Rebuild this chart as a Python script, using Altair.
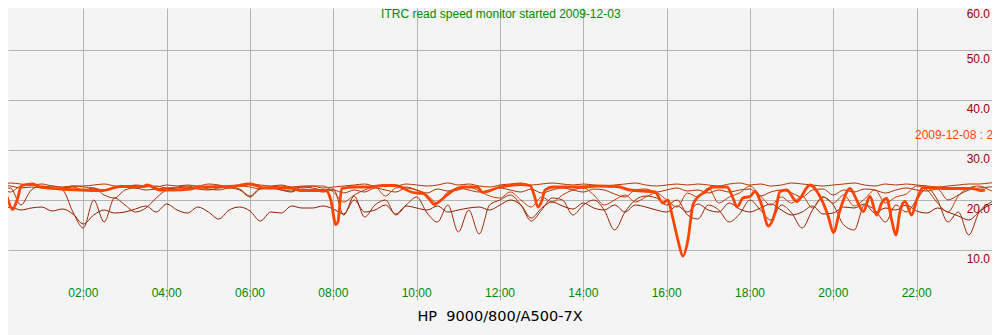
import altair as alt
import pandas as pd

# ---------------- data ----------------
TITLE = "ITRC read speed monitor started 2009-12-03"
FOOTER = "HP\u00a0 9000/800/A500-7X"
STAMP = "2009-12-08 : 21:35"

# earlier days, sampled every 15 minutes (0:00 .. 24:00)
HOURS_15 = [i * 0.25 for i in range(97)]

DAY_03 = [17.4, 18.6, 18.0, 18.4, 18.6, 17.8, 18.2, 17.2, 15.2, 17.0, 18.0, 17.4, 17.6, 18.2, 18.8, 17.6,
          19.2, 18.0, 17.4, 18.6, 17.6, 16.2, 18.0, 18.6, 17.8, 15.8, 17.6, 17.4, 18.8, 18.4, 18.4, 18.8,
          18.2, 17.2, 20.0, 17.6, 18.0, 19.0, 17.2, 18.8, 18.4, 18.0, 18.8, 17.6, 18.0, 18.4, 18.6, 18.0,
          19.0, 20.0, 19.0, 16.4, 18.4, 19.6, 18.8, 18.2, 19.4, 18.4, 18.0, 19.0, 17.6, 19.0, 18.6, 18.0,
          17.6, 18.8, 17.6, 19.2, 18.0, 17.6, 19.4, 18.2, 17.6, 18.4, 19.2, 18.0, 17.0, 17.6, 18.8, 17.2,
          17.4, 18.6, 18.4, 19.2, 17.4, 18.4, 18.0, 19.0, 17.8, 17.4, 18.4, 17.6, 16.8, 16.0, 17.6, 19.0,
          19.4]
DAY_04 = [22.0, 22.4, 19.0, 22.0, 22.8, 22.4, 22.0, 17.6, 14.4, 20.0, 15.6, 20.4, 19.0, 17.6, 18.4, 20.4,
          22.0, 22.4, 22.6, 22.2, 22.0, 22.4, 22.6, 22.2, 20.8, 22.4, 22.6, 22.0, 21.6, 22.6, 22.4, 22.0,
          22.2, 17.0, 20.8, 16.6, 19.0, 20.0, 17.0, 19.0, 20.6, 17.4, 15.6, 19.0, 13.6, 18.0, 13.2, 19.0,
          20.0, 21.0, 19.0, 15.8, 18.0, 20.4, 20.0, 17.0, 19.0, 20.0, 18.0, 14.0, 17.6, 20.0, 20.8, 20.4,
          19.0, 20.0, 17.0, 16.2, 19.0, 18.0, 15.6, 17.2, 20.0, 18.0, 16.0, 19.0, 17.4, 14.4, 18.0, 20.6,
          19.0, 15.0, 14.0, 19.0, 18.0, 15.6, 19.0, 17.6, 20.0, 22.4, 20.0, 15.6, 17.6, 13.0, 17.6, 19.4,
          20.4]
DAY_05 = [22.8, 23.4, 23.2, 23.0, 23.2, 22.8, 22.6, 22.8, 22.8, 23.0, 23.2, 22.8, 22.6, 23.0, 22.8, 22.6,
          23.0, 22.8, 23.0, 22.8, 23.2, 23.0, 22.6, 22.8, 23.2, 23.0, 22.8, 23.0, 22.6, 22.8, 22.8, 22.4,
          22.6, 22.8, 23.0, 23.2, 22.8, 23.0, 22.8, 23.2, 23.0, 22.8, 23.0, 23.4, 23.0, 23.2, 22.8, 22.6,
          23.0, 23.2, 23.4, 23.0, 23.2, 23.4, 23.2, 23.0, 23.2, 23.0, 22.8, 23.0, 23.2, 23.4, 23.0, 22.8,
          23.0, 23.2, 23.0, 23.2, 23.0, 22.8, 23.2, 23.4, 23.0, 23.2, 22.8, 23.0, 23.4, 23.2, 23.0, 22.8,
          23.0, 23.2, 23.4, 23.0, 22.8, 23.2, 23.0, 23.2, 23.0, 22.8, 22.6, 22.8, 23.0, 23.2, 23.2, 23.4,
          23.6]
DAY_06 = [23.0, 22.8, 22.4, 22.6, 22.4, 22.2, 22.4, 22.6, 22.0, 22.4, 21.0, 20.4, 22.0, 22.4, 22.0, 22.2,
          22.4, 22.0, 22.4, 22.6, 22.2, 22.0, 22.4, 22.0, 20.6, 22.2, 22.4, 22.0, 21.8, 22.2, 22.0, 21.6,
          22.0, 21.4, 22.0, 21.6, 22.4, 22.0, 21.6, 22.4, 22.0, 21.4, 22.2, 21.8, 22.4, 22.0, 21.6, 22.0,
          22.4, 22.0, 21.6, 22.2, 21.4, 22.0, 22.4, 22.0, 21.6, 22.2, 22.0, 21.2, 20.6, 22.0, 22.2, 21.6,
          22.0, 22.4, 21.8, 22.0, 21.4, 22.0, 21.6, 22.0, 22.2, 20.8, 21.6, 22.0, 21.4, 20.6, 22.0, 22.2,
          21.0, 22.0, 21.6, 22.2, 22.0, 21.4, 22.0, 22.4, 22.0, 21.8, 22.2, 20.0, 21.0, 22.0, 22.4, 22.6,
          22.8]
DAY_07 = [22.4, 21.6, 22.8, 23.0, 22.6, 22.8, 22.4, 22.8, 22.6, 22.4, 22.0, 22.6, 22.8, 22.4, 22.6, 22.8,
          22.4, 22.6, 22.8, 22.4, 22.6, 22.8, 22.4, 22.8, 22.6, 22.2, 22.6, 22.8, 22.4, 22.6, 22.8, 22.8,
          21.6, 19.6, 21.0, 22.0, 22.6, 20.8, 22.4, 22.6, 22.0, 21.0, 19.4, 21.6, 22.0, 22.6, 21.8, 20.8,
          20.4, 21.6, 20.0, 18.6, 20.6, 19.6, 21.0, 22.0, 22.4, 21.0, 19.0, 20.0, 21.0, 19.6, 20.6, 21.4,
          20.0, 18.6, 21.4, 20.6, 22.4, 19.4, 20.6, 21.4, 22.8, 20.8, 19.0, 20.6, 19.4, 20.8, 18.4, 20.6,
          19.4, 21.0, 18.8, 20.2, 22.0, 19.4, 20.6, 21.2, 22.8, 22.0, 19.4, 17.6, 20.8, 22.4, 22.8, 22.0,
          21.0]

# current day (2009-12-08), irregular samples
TODAY_HOURS = [0.00, 0.12, 0.30, 0.41, 0.52, 0.79, 0.96, 1.44, 1.92, 2.47, 2.88, 3.43, 3.53, 3.84, 4.15,
               4.56, 4.80, 5.52, 6.00, 6.36, 6.96, 7.20, 7.82, 7.94, 8.06, 8.11, 8.20, 8.52, 8.88, 9.19,
               9.48, 9.91, 10.15, 10.32, 10.42, 10.56, 10.73, 10.97, 11.11, 11.45, 11.59, 12.00, 12.24,
               12.48, 12.72, 12.82, 12.91, 13.01, 13.08, 13.27, 13.99, 14.33, 14.81, 15.12, 15.72, 15.91,
               16.03, 16.13, 16.27, 16.39, 16.51, 16.63, 16.73, 16.92, 17.11, 17.45, 17.59, 17.69, 17.83,
               18.00, 18.12, 18.28, 18.44, 18.60, 18.72, 18.88, 19.12, 19.44, 19.68, 19.88, 20.00, 20.16,
               20.40, 20.56, 20.72, 20.88, 21.04, 21.16, 21.28, 21.40, 21.50, 21.60, 21.72, 21.88, 22.00,
               22.16, 22.80, 23.35, 23.52, 23.64]
TODAY_VALUES = [22.3, 21.6, 18.1, 20.0, 22.9, 23.2, 22.6, 22.2, 22.0, 21.9, 22.7, 22.7, 23.0, 22.0, 22.0,
                22.2, 22.6, 22.7, 23.2, 22.4, 22.4, 21.9, 21.9, 20.0, 15.1, 15.6, 22.3, 22.6, 22.6, 22.9,
                22.9, 21.5, 21.3, 20.0, 19.1, 19.8, 21.0, 22.3, 22.6, 22.6, 21.5, 22.6, 22.9,
                23.1, 22.9, 21.0, 18.6, 20.0, 22.0, 22.6, 22.6, 22.8, 22.7, 22.0, 21.6, 19.4,
                20.0, 17.0, 12.0, 8.8, 12.0, 19.0, 20.4, 21.6, 22.6, 22.6, 20.4, 18.6, 20.4,
                20.7, 21.7, 19.0, 14.8, 17.4, 21.7, 22.0, 19.7, 23.0, 20.7, 16.7, 13.5, 18.0,
                22.3, 20.0, 17.7, 20.7, 17.0, 19.4, 20.3, 16.0, 13.0, 17.7, 19.7, 17.0, 20.0,
                22.5, 22.3, 22.3, 21.9, 22.0]

DAY_NAMES = ["2009-12-03", "2009-12-04", "2009-12-05", "2009-12-06", "2009-12-07"]
DAY_COLORS = ["#8c1e00", "#a02a00", "#b53400", "#a83000", "#c23b00"]
TODAY_COLOR = "#ff4400"

X_GRID = [2, 4, 6, 8, 10, 12, 14, 16, 18, 20, 22]
X_TICKS = [2, 4, 6, 8, 10, 12, 14, 16, 18, 20, 22]
X_TICK_LABELS = ["02:00", "04:00", "06:00", "08:00", "10:00", "12:00", "14:00", "16:00",
                 "18:00", "20:00", "22:00"]
Y_TICKS = [10, 20, 30, 40, 50]
Y_TICK_LABELS = ["10.0", "20.0", "30.0", "40.0", "50.0"]

# ---------------- tables ----------------
rows = []
for name, vals in zip(DAY_NAMES, [DAY_03, DAY_04, DAY_05, DAY_06, DAY_07]):
    for h, v in zip(HOURS_15, vals):
        rows.append({"day": name, "hour": h, "speed": v})
past = pd.DataFrame(rows)
today = pd.DataFrame({"hour": TODAY_HOURS, "speed": TODAY_VALUES})
xlab = pd.DataFrame({"hour": X_TICKS, "t": X_TICK_LABELS})
ylab = pd.DataFrame({"speed": Y_TICKS, "t": Y_TICK_LABELS})

FONT = "Liberation Sans"
GREEN = "#008a00"
RED = "#990000"
GRID = "#b4b4b4"

xs = alt.Scale(domain=[0.192, 23.808], nice=False, zero=False)
ys = alt.Scale(domain=[0, 58.4], nice=False, zero=False)

past_lines = alt.Chart(past).mark_line(strokeWidth=1, interpolate="monotone").encode(
    x=alt.X("hour:Q", scale=xs, title=None, axis=alt.Axis(values=X_GRID)),
    y=alt.Y("speed:Q", scale=ys, title=None, axis=alt.Axis(values=Y_TICKS)),
    color=alt.Color("day:N", scale=alt.Scale(domain=DAY_NAMES, range=DAY_COLORS), legend=None),
    detail="day:N",
)

today_line = alt.Chart(today).mark_line(strokeWidth=2.8, interpolate="monotone",
                                        color=TODAY_COLOR, strokeJoin="round").encode(
    x=alt.X("hour:Q", scale=xs, title=None),
    y=alt.Y("speed:Q", scale=ys, title=None),
)

x_labels = alt.Chart(xlab).mark_text(font=FONT, fontSize=12, color=GREEN, align="center",
                                     baseline="middle").encode(
    x=alt.X("hour:Q", scale=xs, title=None),
    y=alt.datum(1.45),
    text="t:N",
)

y_labels = alt.Chart(ylab).mark_text(font=FONT, fontSize=12, color=RED, align="right",
                                     baseline="middle", dy=9).encode(
    x=alt.datum(23.76),
    y=alt.Y("speed:Q", scale=ys, title=None),
    text="t:N",
)

top_label = alt.Chart(pd.DataFrame({"t": ["60.0"]})).mark_text(
    font=FONT, fontSize=12, color=RED, align="right", baseline="middle", dy=14).encode(
    x=alt.datum(23.76), y=alt.datum(60), text="t:N")

title = alt.Chart(pd.DataFrame({"t": [TITLE]})).mark_text(
    font=FONT, fontSize=12, color=GREEN, align="center", baseline="middle", dy=14).encode(
    x=alt.datum(12.02), y=alt.datum(60), text="t:N")

footer = alt.Chart(pd.DataFrame({"t": [FOOTER]})).mark_text(
    font="DejaVu Sans", fontSize=14.5, color="#000000", align="center", baseline="middle").encode(
    x=alt.datum(12.0), y=alt.datum(-3.4), text="t:N")

stamp = alt.Chart(pd.DataFrame({"t": [STAMP]})).mark_text(
    font=FONT, fontSize=12, color=TODAY_COLOR, align="left", baseline="middle").encode(
    x=alt.datum(21.96), y=alt.datum(33.0), text="t:N")

chart = alt.layer(
    past_lines, today_line, x_labels, y_labels, top_label, title, footer, stamp
).properties(
    width=984, height=292,
    autosize=alt.AutoSizeParams(type="none"),
    padding={"left": 0, "top": 0, "right": 0, "bottom": 35},
).configure(
    background="#f4f4f4",
).configure_axis(
    grid=True, gridColor=GRID, gridWidth=1, labels=False, ticks=False, domain=False,
    titleOpacity=0,
).configure_view(
    stroke=None,
)

chart.save("out.html", embed_options={"renderer": "svg", "actions": False})
